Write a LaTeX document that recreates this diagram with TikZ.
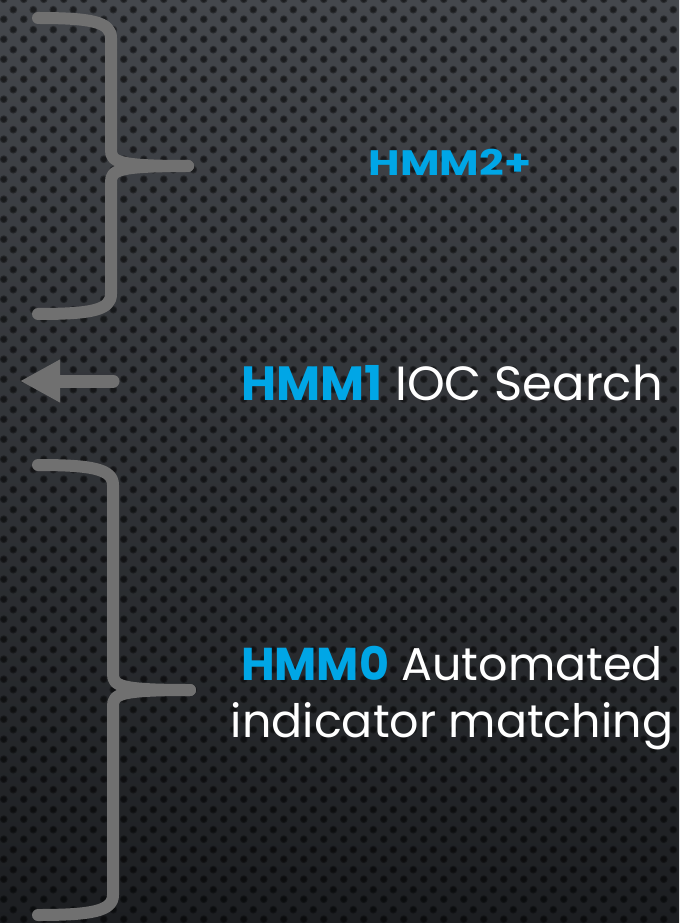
\documentclass[tikz,border=0pt]{standalone}
\usepackage{fontspec}
\setmainfont{Poppins}
\usetikzlibrary{arrows.meta,patterns}

\definecolor{hmmblue}{RGB}{0,166,230}
\definecolor{bracegray}{RGB}{112,112,112}
\definecolor{bgtop}{RGB}{68,71,76}
\definecolor{bgbot}{RGB}{28,30,33}

% perforated plate, two holes per tile
\pgfdeclarepatternformonly{holes}{\pgfqpoint{0pt}{0pt}}{\pgfqpoint{15pt}{15pt}}{\pgfqpoint{15pt}{15pt}}{
  \pgfpathcircle{\pgfqpoint{3.75pt}{3.75pt}}{3.1pt}
  \pgfpathcircle{\pgfqpoint{11.25pt}{11.25pt}}{3.1pt}
  \pgfusepath{fill}}
\pgfdeclarepatternformonly{holecores}{\pgfqpoint{0pt}{0pt}}{\pgfqpoint{15pt}{15pt}}{\pgfqpoint{15pt}{15pt}}{
  \pgfpathcircle{\pgfqpoint{3.75pt}{3.75pt}}{2.2pt}
  \pgfpathcircle{\pgfqpoint{11.25pt}{11.25pt}}{2.2pt}
  \pgfusepath{fill}}

\tikzset{
  brace/.style={draw=bracegray, line width=9pt, line cap=round, line join=round},
  label/.style={text=white, inner sep=0pt, anchor=base},
}

\begin{document}
\begin{tikzpicture}[x=0.75pt,y=-0.75pt]
  \useasboundingbox (0,0) rectangle (679,923);
  \shade[top color=bgtop, bottom color=bgbot] (0,0) rectangle (679,923);
  \fill[pattern=holes, pattern color=black, fill opacity=0.35] (0,0) rectangle (679,923);
  \fill[pattern=holecores, pattern color=black, fill opacity=0.35] (0,0) rectangle (679,923);

  \foreach \ya/\yb/\yc/\xb in {18/166/314/111, 465/690/915/113}{
    \draw[brace] (38,\ya) .. controls (92,\ya) and (\xb,\ya+4) .. (\xb,\ya+20)
      -- (\xb,\yb-16) .. controls (\xb,\yb-4) and (\xb+7,\yb) .. (\xb+77,\yb);
    \draw[brace] (\xb+77,\yb) .. controls (\xb+7,\yb) and (\xb,\yb+4) .. (\xb,\yb+16)
      -- (\xb,\yc-20) .. controls (\xb,\yc-4) and (92,\yc) .. (38,\yc);
  }

  \coordinate (arrstart) at (113,381);
  \coordinate (arrend) at (20,381);
  \draw[bracegray, line width=9.75pt, line cap=round, -{Triangle[length=30pt,width=30pt]}] (arrstart) -- (arrend);

  \node[label, text=hmmblue, xscale=1.22, font=\bfseries\fontsize{26.5}{30}\selectfont] (hmmtwo) at (450,176) {HMM2+};
  \node[label, font=\fontsize{36}{43}\selectfont] (hmmone) at (452,400) {\textcolor{hmmblue}{\bfseries HMM1} IOC Search};
  \node[label, align=center, font=\fontsize{34.5}{42.75}\selectfont] (hmmzero) at (452,737) {\textcolor{hmmblue}{\bfseries HMM0} Automated\\indicator matching};
\end{tikzpicture}
\end{document}
